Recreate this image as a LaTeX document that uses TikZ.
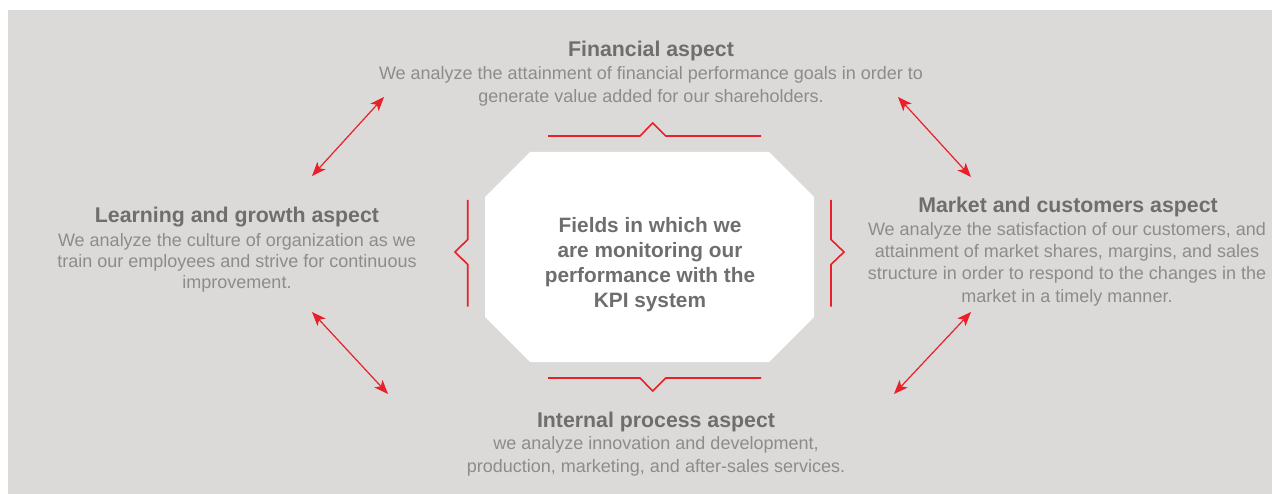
\documentclass[tikz,border=0pt]{standalone}
\usepackage{fontspec}
\setmainfont{Liberation Sans}
\usetikzlibrary{arrows.meta}
\definecolor{panel}{HTML}{DCDAD8}
\definecolor{headgray}{HTML}{6E6E6E}
\definecolor{bodygray}{HTML}{8C8C8C}
\definecolor{kpired}{HTML}{E8202A}

\begin{document}
\begin{tikzpicture}[x=1pt,y=-1pt,
  heading/.style={font=\fontsize{21.3}{24}\selectfont\bfseries, text=headgray, inner sep=0pt, anchor=base},
  bodytext/.style={font=\fontsize{18}{#1}\selectfont, text=bodygray, align=center, inner sep=0pt, anchor=north},
  coretext/.style={font=\fontsize{20.8}{25}\selectfont\bfseries, text=headgray, align=center, inner sep=0pt, anchor=north},
  bracket/.style={draw=kpired, line width=1.6pt},
  link/.style={draw=kpired, line width=1.2pt,
    {Stealth[length=14pt,width=11pt,inset=3.5pt]}-{Stealth[length=14pt,width=11pt,inset=3.5pt]}}
]
\useasboundingbox (0,0) rectangle (1272,494);
\fill[panel] (8,10) rectangle (1272,494);

% central octagon
\fill[white] (530,152) -- (769,152) -- (814,197) -- (814,317) -- (769,362)
  -- (530,362) -- (485,317) -- (485,197) -- cycle;
\node[coretext] (core) at (650,217.5) {Fields in which we\\are monitoring our\\performance with the\\KPI system};

% brackets around the octagon
\draw[bracket] (548,136) -- (640,136) -- (652.7,123) -- (665.7,136) -- (761,136);
\draw[bracket] (548,378) -- (640,378) -- (652.7,391) -- (665.7,378) -- (761,378);
\draw[bracket] (467.7,200) -- (467.7,239.5) -- (455,252) -- (467.7,264.5) -- (467.7,306.7);
\draw[bracket] (831,200) -- (831,239.5) -- (844,252) -- (831,264.5) -- (831,306.7);

% the four aspects
\node[heading] (fin) at (651,57) {Financial aspect};
\node[bodytext=23.5] (finbody) at (651,66) {We analyze the attainment of financial performance goals in order to\\generate value added for our shareholders.};

\node[heading] (learn) at (237,223) {Learning and growth aspect};
\node[bodytext=21.2] (learnbody) at (237,233) {We analyze the culture of organization as we\\train our employees and strive for continuous\\improvement.};

\node[heading] (market) at (1068,213) {Market and customers aspect};
\node[bodytext=22.3] (marketbody) at (1067,222) {We analyze the satisfaction of our customers, and\\attainment of market shares, margins, and sales\\structure in order to respond to the changes in the\\market in a timely manner.};

\node[heading] (internal) at (656,427) {Internal process aspect};
\node[bodytext=23] (internalbody) at (656,436) {we analyze innovation and development,\\production, marketing, and after-sales services.};

% arrow ends between neighbouring aspects
\coordinate (tlA) at (312,176);
\coordinate (tlB) at (384,97);
\coordinate (trA) at (898,97);
\coordinate (trB) at (971,177);
\coordinate (blA) at (312,312);
\coordinate (blB) at (388,394);
\coordinate (brA) at (971,312);
\coordinate (brB) at (894,394);

\draw[link] (tlA) -- (tlB);
\draw[link] (trA) -- (trB);
\draw[link] (blA) -- (blB);
\draw[link] (brA) -- (brB);
\end{tikzpicture}
\end{document}
